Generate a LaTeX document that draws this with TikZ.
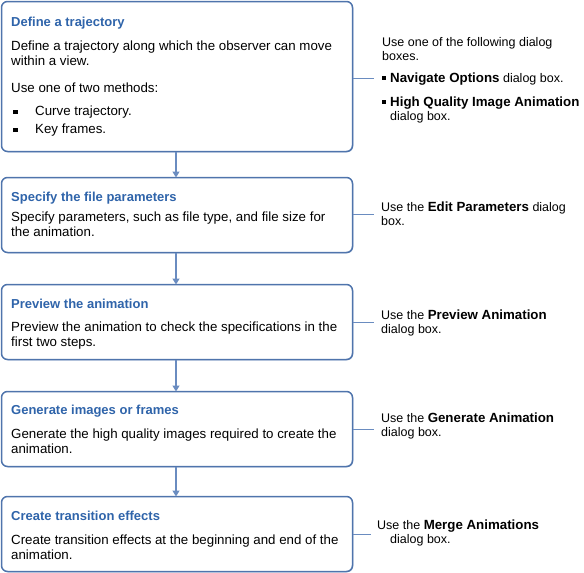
\documentclass[tikz,border=0pt]{standalone}
\usepackage{fontspec}
\setmainfont{Liberation Sans}
\usetikzlibrary{arrows.meta,shadows}
\definecolor{boxblue}{HTML}{4F74AC}
\definecolor{titleblue}{HTML}{2F64AA}
\definecolor{linkblue}{HTML}{6A8CC0}
\newcommand\lines[1]{\begin{tabular}[t]{@{}l@{}}#1\end{tabular}}
\newcommand\sqbullet{\rule[1pt]{4.5pt}{4.5pt}}
\newcommand\smbullet{\rule[2.5pt]{4pt}{4pt}}
\newcommand\nb[1]{{\fontsize{13.3}{14.7}\selectfont\bfseries #1}}
\tikzset{
  stepbox/.style={draw=boxblue, line width=1.5pt, rounded corners=6pt, fill=white,
    inner sep=0pt, outer sep=0pt, anchor=north west, minimum width=351pt,
    drop shadow={shadow xshift=0.8pt, shadow yshift=-0.8pt, fill=boxblue!60, opacity=0.6}},
  titletext/.style={anchor=base west, inner sep=0pt, text=titleblue,
    font=\fontsize{13}{15}\selectfont\bfseries},
  bodytext/.style={anchor=base west, inner sep=0pt,
    font=\fontsize{13.3}{15.6}\selectfont},
  notetext/.style={anchor=base west, inner sep=0pt,
    font=\fontsize{12.5}{14.7}\selectfont},
  flow/.style={draw=linkblue, line width=1.4pt, -{Triangle[length=6pt,width=7pt]}},
  link/.style={draw=linkblue, line width=1pt},
}
\begin{document}
\begin{tikzpicture}[x=1pt,y=-1pt]
\useasboundingbox (0,0) rectangle (584,573);
% boxes
\node[stepbox, minimum height=150pt] (b1) at (1.5,1.5) {};
\node[stepbox, minimum height=75pt] (b2) at (1.5,177.5) {};
\node[stepbox, minimum height=75pt] (b3) at (1.5,284.5) {};
\node[stepbox, minimum height=75pt] (b4) at (1.5,391.5) {};
\node[stepbox, minimum height=75pt] (b5) at (1.5,496.5) {};
% box 1 text
\node[titletext] (t1) at (11,26) {Define a trajectory};
\node[bodytext] (d1) at (11,50) {\lines{Define a trajectory along which the observer can move\\within a view.}};
\node[bodytext] (d1b) at (11,92) {Use one of two methods:};
\node[bodytext] (d1c) at (13,115) {\sqbullet};
\node[bodytext] (d1d) at (35,115) {Curve trajectory.};
\node[bodytext] (d1e) at (13,133) {\sqbullet};
\node[bodytext] (d1f) at (35,133) {Key frames.};
% box 2 text
\node[titletext] (t2) at (11,201) {Specify the file parameters};
\node[bodytext] (d2) at (11,221) {\lines{Specify parameters, such as file type, and file size for\\the animation.}};
% box 3 text
\node[titletext] (t3) at (11,308) {Preview the animation};
\node[bodytext] (d3) at (11,331) {\lines{Preview the animation to check the specifications in the\\first two steps.}};
% box 4 text
\node[titletext] (t4) at (11,414) {Generate images or frames};
\node[bodytext] (d4) at (11,438) {\lines{Generate the high quality images required to create the\\animation.}};
% box 5 text
\node[titletext] (t5) at (11,520) {Create transition effects};
\node[bodytext] (d5) at (11,544) {\lines{Create transition effects at the beginning and end of the\\animation.}};
% flow arrows
\draw[flow] (b1.south -| 176,0) -- (b2.north -| 176,0);
\draw[flow] (b2.south -| 176,0) -- (b3.north -| 176,0);
\draw[flow] (b3.south -| 176,0) -- (b4.north -| 176,0);
\draw[flow] (b4.south -| 176,0) -- (b5.north -| 176,0);
% right-hand notes
\node[notetext] (r1) at (382,46) {\lines{Use one of the following dialog\\boxes.}};
\node[notetext] (r1a) at (382,82) {\smbullet};
\node[notetext] (r1b) at (390,82) {\nb{Navigate Options} dialog box.};
\node[notetext] (r1c) at (382,106) {\smbullet};
\node[notetext] (r1d) at (390,106) {\lines{\nb{High Quality Image Animation}\\dialog box.}};
\node[notetext] (r2) at (381,211) {\lines{Use the \nb{Edit Parameters} dialog\\box.}};
\node[notetext] (r3) at (381,319) {\lines{Use the \nb{Preview Animation}\\dialog box.}};
\node[notetext] (r4) at (381,422) {\lines{Use the \nb{Generate Animation}\\dialog box.}};
\node[notetext] (r5) at (377,529) {\lines{Use the \nb{Merge Animations}\\\hspace*{13pt}dialog box.}};
% connectors
\coordinate (e1) at (374,78);
\coordinate (e2) at (374,214);
\coordinate (e3) at (374,322);
\coordinate (e4) at (374,429);
\coordinate (e5) at (371,534);
\draw[link] (b1.east |- e1) -- (e1);
\draw[link] (b2.east |- e2) -- (e2);
\draw[link] (b3.east |- e3) -- (e3);
\draw[link] (b4.east |- e4) -- (e4);
\draw[link] (b5.east |- e5) -- (e5);
\end{tikzpicture}
\end{document}
